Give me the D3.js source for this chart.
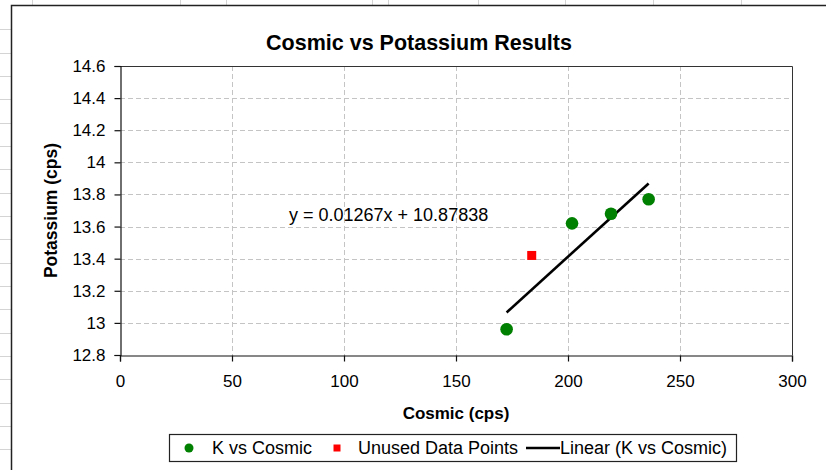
<!DOCTYPE html>
<html>
<head>
<meta charset="utf-8">
<script src="https://cdn.jsdelivr.net/npm/d3@7"></script>
<style>
  html, body { margin: 0; padding: 0; background: #fff; }
  svg { display: block; font-family: "Liberation Sans", Arial, sans-serif; }
</style>
</head>
<body>
<svg id="chart" width="826" height="470"></svg>
<script>
// Cosmic vs Potassium count rates
const kCosmic = [172.6, 201.8, 219.2, 236.0];
const kPotassium = [12.96, 13.62, 13.68, 13.77];
const unusedCosmic = [183.8];
const unusedPotassium = [13.42];
const trendSlope = 0.01267;
const trendIntercept = 10.87838;
const xTicks = [0, 50, 100, 150, 200, 250, 300];
const yTicks = [12.8, 13, 13.2, 13.4, 13.6, 13.8, 14, 14.2, 14.4, 14.6];
const legendLabels = ["K vs Cosmic", "Unused Data Points", "Linear (K vs Cosmic)"];

const svg = d3.select("#chart");
const W = 826, H = 470;

// worksheet cells peeking out around the chart object
const sheet = svg.append("g").attr("stroke", "#d4d4d4").attr("stroke-width", 1);
d3.range(29.3, H, 23.33).forEach(y => {
  sheet.append("line").attr("x1", 0).attr("x2", 11).attr("y1", Math.round(y) + 0.5).attr("y2", Math.round(y) + 0.5);
});
[32, 180, 226, 372, 388, 478, 565, 653, 741].forEach(x => {
  sheet.append("line").attr("x1", x + 0.5).attr("x2", x + 0.5).attr("y1", 0).attr("y2", 5);
});

// chart object frame
svg.append("path")
  .attr("d", `M11.5,${H} V5.5 H${W}`)
  .attr("fill", "none").attr("stroke", "#222").attr("stroke-width", 1.5);

const plot = { left: 120, right: 792, top: 66, bottom: 355 };
const x = d3.scaleLinear().domain([0, 300]).range([plot.left, plot.right]);
const y = d3.scaleLinear().domain([12.8, 14.6]).range([plot.bottom, plot.top]);

// dashed gridlines
const grid = svg.append("g").attr("stroke", "#c4c4c4").attr("stroke-width", 1).attr("stroke-dasharray", "5,3");
yTicks.slice(1, -1).forEach(v => {
  grid.append("line").attr("x1", plot.left).attr("x2", plot.right)
    .attr("y1", Math.round(y(v)) + 0.5).attr("y2", Math.round(y(v)) + 0.5);
});
xTicks.slice(1, -1).forEach(v => {
  grid.append("line").attr("y1", plot.top).attr("y2", plot.bottom)
    .attr("x1", Math.round(x(v)) + 0.5).attr("x2", Math.round(x(v)) + 0.5);
});

// plot area outline (top and right)
svg.append("path")
  .attr("d", `M${plot.left},${plot.top + 0.5} H${plot.right + 0.5} V${plot.bottom}`)
  .attr("fill", "none").attr("stroke", "#333").attr("stroke-width", 1);

const fmt = v => String(+v.toFixed(1));

const yAxis = svg.append("g")
  .attr("transform", `translate(${plot.left + 0.5},0)`)
  .call(d3.axisLeft(y).tickValues(yTicks).tickFormat(fmt).tickSize(6).tickPadding(9));
const xAxis = svg.append("g")
  .attr("transform", `translate(0,${plot.bottom + 0.5})`)
  .call(d3.axisBottom(x).tickValues(xTicks).tickFormat(fmt).tickSize(6).tickPadding(13));

[yAxis, xAxis].forEach(g => {
  g.select(".domain").attr("stroke", "#111").attr("stroke-width", 1.2);
  g.selectAll(".tick line").attr("stroke", "#111").attr("stroke-width", 1.2);
  g.selectAll(".tick text").attr("fill", "#000")
    .style("font-family", '"Liberation Sans", Arial, sans-serif').style("font-size", "17px");
});

// linear trendline over the fitted series
const tx = d3.extent(kCosmic);
svg.append("line")
  .attr("x1", x(tx[0])).attr("y1", y(trendSlope * tx[0] + trendIntercept))
  .attr("x2", x(tx[1])).attr("y2", y(trendSlope * tx[1] + trendIntercept))
  .attr("stroke", "#000").attr("stroke-width", 2.6);

// fitted points
svg.append("g").selectAll("circle")
  .data(kCosmic.map((c, i) => [c, kPotassium[i]]))
  .join("circle")
  .attr("cx", d => x(d[0])).attr("cy", d => y(d[1])).attr("r", 6.3)
  .attr("fill", "#008000");

// excluded points
svg.append("g").selectAll("rect")
  .data(unusedCosmic.map((c, i) => [c, unusedPotassium[i]]))
  .join("rect")
  .attr("x", d => x(d[0]) - 4.5).attr("y", d => y(d[1]) - 4.5)
  .attr("width", 9).attr("height", 9).attr("fill", "#ff0000");

// fit equation
svg.append("text")
  .attr("x", 289).attr("y", 221)
  .style("font-size", "18px").attr("fill", "#000")
  .text(`y = ${trendSlope}x + ${trendIntercept}`);

// titles
svg.append("text")
  .attr("x", 419).attr("y", 50).attr("text-anchor", "middle")
  .style("font-size", "21.5px").style("font-weight", "bold")
  .text("Cosmic vs Potassium Results");
svg.append("text")
  .attr("x", (plot.left + plot.right) / 2).attr("y", 419).attr("text-anchor", "middle")
  .style("font-size", "17px").style("font-weight", "bold")
  .text("Cosmic (cps)");
svg.append("text")
  .attr("transform", `translate(57,${(plot.top + plot.bottom) / 2}) rotate(-90)`)
  .attr("text-anchor", "middle")
  .style("font-size", "17.5px").style("font-weight", "bold")
  .text("Potassium (cps)");

// legend
const lg = svg.append("g");
lg.append("rect").attr("x", 169.5).attr("y", 434.5).attr("width", 567).attr("height", 27)
  .attr("fill", "#fff").attr("stroke", "#222").attr("stroke-width", 1.2);
const ly = 448;
lg.append("circle").attr("cx", 189).attr("cy", ly).attr("r", 4.5).attr("fill", "#008000");
lg.append("rect").attr("x", 333.5).attr("y", ly - 3.5).attr("width", 7).attr("height", 7).attr("fill", "#ff0000");
lg.append("line").attr("x1", 526).attr("x2", 560).attr("y1", ly).attr("y2", ly)
  .attr("stroke", "#000").attr("stroke-width", 2.6);
[[212, legendLabels[0]], [358, legendLabels[1]], [560, legendLabels[2]]].forEach(([lx, t]) => {
  lg.append("text").attr("x", lx).attr("y", ly + 6).style("font-size", "18px").attr("fill", "#000").text(t);
});
</script>
</body>
</html>
